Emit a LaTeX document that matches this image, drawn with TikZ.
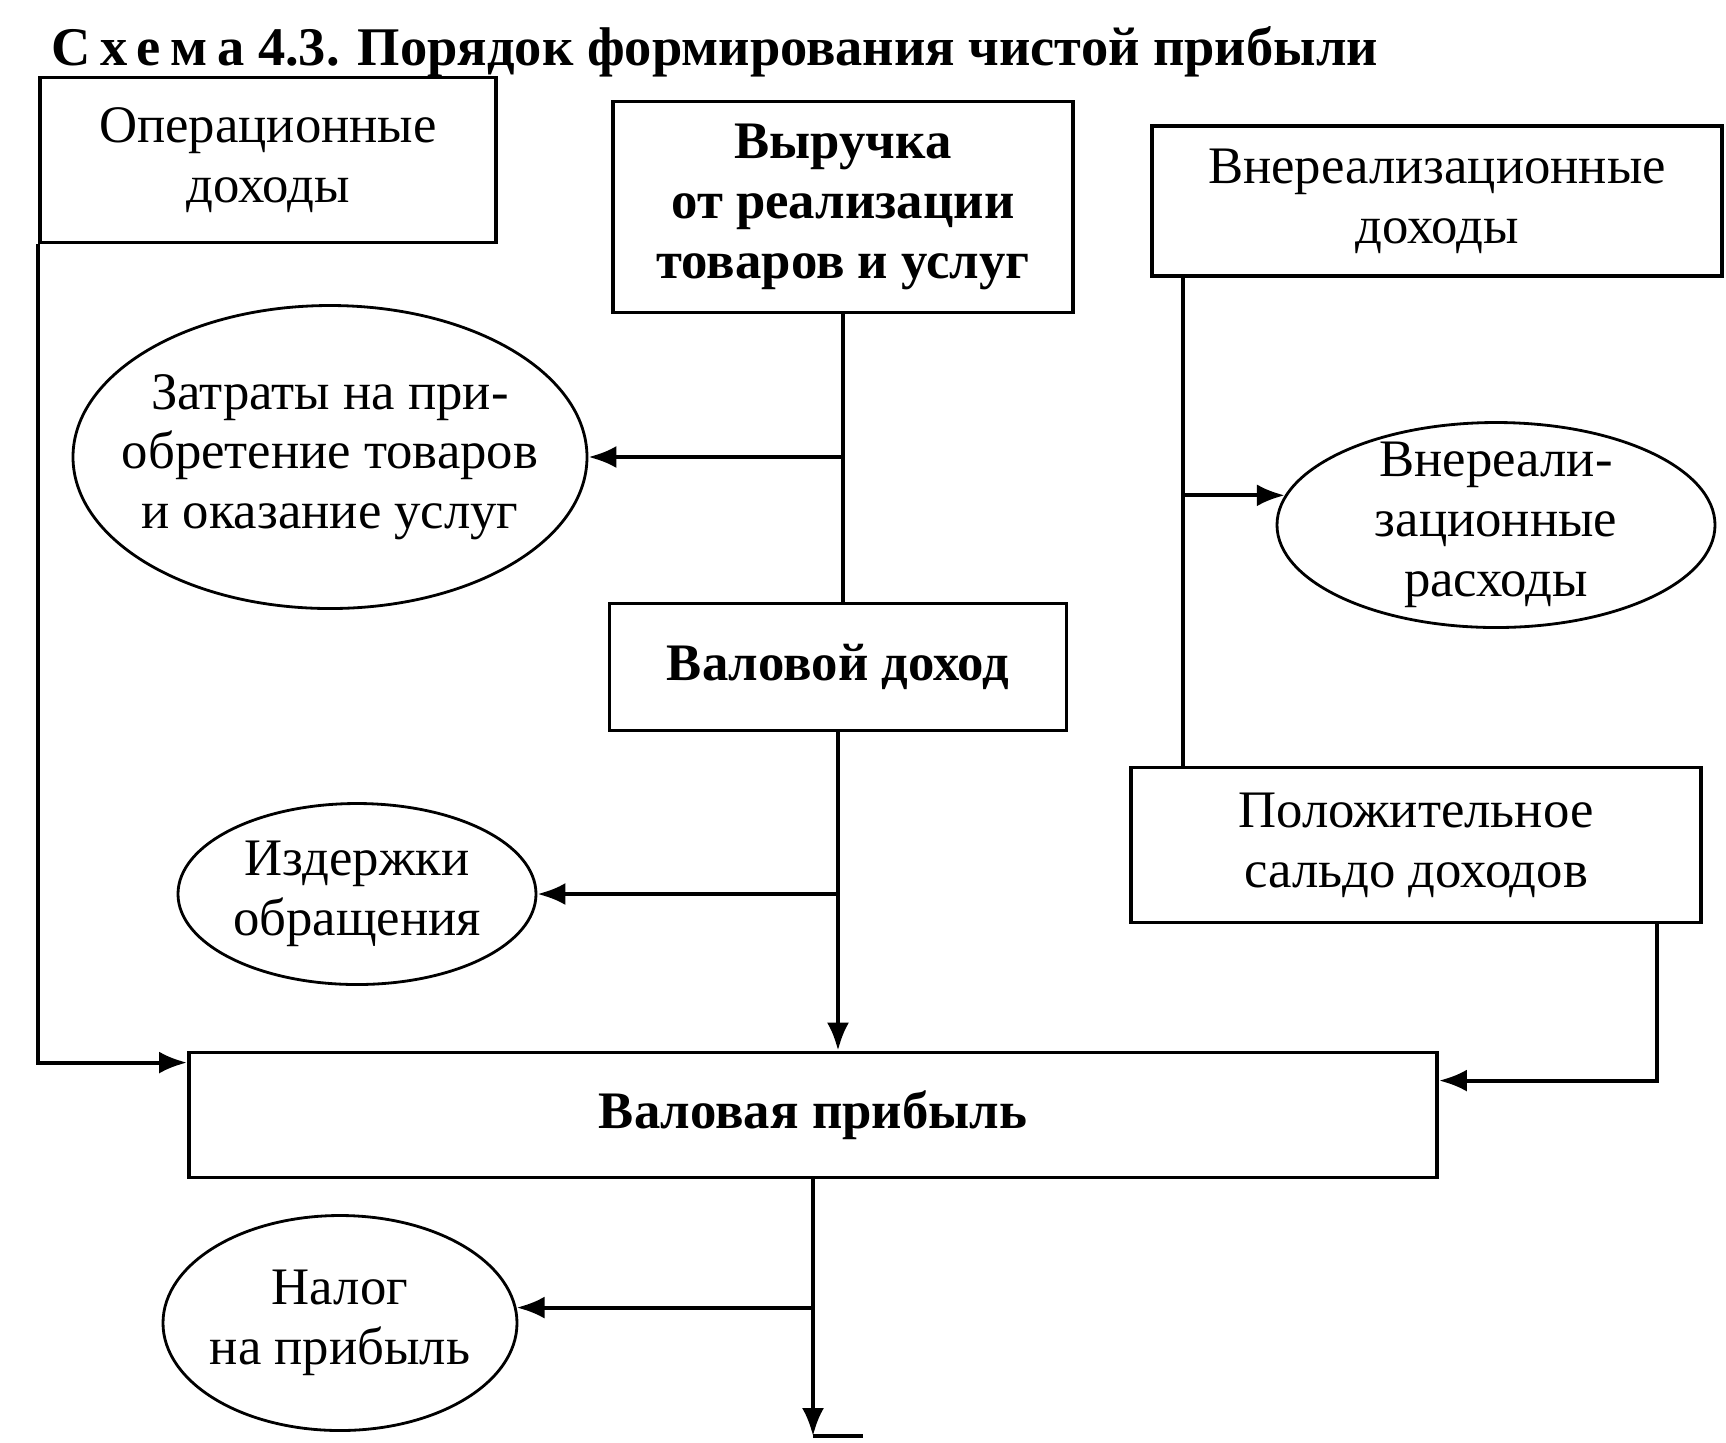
\documentclass[tikz,border=0pt]{standalone}
\usepackage{fontspec}
\setmainfont{Liberation Serif}
\usetikzlibrary{arrows.meta, positioning, shapes.geometric, calc}

\begin{document}
\begin{tikzpicture}[
    box/.style={draw, line width=1.1pt, align=center, inner sep=2pt},  % rectangular blocks
    oval/.style={draw, ellipse, line width=0.8pt, align=center, inner xsep=-3mm, inner ysep=-2mm},
    link/.style={line width=1.1pt},
    arr/.style={line width=1.1pt, -{Latex[length=2.8mm, width=2.2mm]}},
    bold/.style={font=\fontsize{15}{17}\selectfont\bfseries},
    every node/.style={font=\fontsize{15}{17}\selectfont},
    >=latex
]

% Page frame
\useasboundingbox (0,0) rectangle (17.26,-14.42);

% Title
\node[font=\fontsize{15.5}{19}\selectfont\bfseries] (title) at (7.15,-0.52)
    {{\addfontfeature{LetterSpace=18}Схема} 4.3. Порядок формирования чистой прибыли};

% Top row: sources of income
\node[box, minimum width=4.56cm, minimum height=1.65cm] (opinc) at (2.68,-1.60) {Операционные\\доходы};
\node[box, bold, minimum width=4.60cm, minimum height=2.11cm] (revenue) at (8.43,-2.07) {Выручка\\от реализации\\товаров и услуг};
\node[box, minimum width=5.70cm, minimum height=1.50cm] (nrinc) at (14.37,-2.01) {Внереализационные\\доходы};

% Expenses of the first level
\node[oval, minimum width=5.14cm, minimum height=3.03cm] (purch) at (3.30,-4.57) {Затраты на при-\\обретение товаров\\и оказание услуг};
\node[oval, minimum width=4.38cm, minimum height=2.05cm] (nrexp) at (14.96,-5.25) {Внереали-\\зационные\\расходы};

% Intermediate results
\node[box, bold, minimum width=4.57cm, minimum height=1.27cm] (grossinc) at (8.38,-6.67) {Валовой доход};
\node[oval, minimum width=3.58cm, minimum height=1.81cm] (distr) at (3.57,-8.94) {Издержки\\обращения};
\node[box, minimum width=5.70cm, minimum height=1.55cm] (posbal) at (14.16,-8.45) {Положительное\\сальдо доходов};

% Gross profit and tax
\node[box, bold, minimum width=12.48cm, minimum height=1.25cm] (grossprof) at (8.13,-11.15) {Валовая прибыль};
\node[oval, minimum width=3.54cm, minimum height=2.15cm] (tax) at (3.40,-13.23) {Налог\\на прибыль};
\coordinate (netprof) at (8.13,-14.36);

% Helper points on the side lines
\coordinate (nrdown) at ([xshift=0.33cm]nrinc.south west);
\coordinate (posdown) at ([xshift=-0.46cm]posbal.south east);

% Connections
\draw[link] (revenue.south) -- (revenue.south |- grossinc.north);
\draw[arr] (revenue.south |- purch.east) -- (purch.east);

\draw[link] (nrdown) -- (nrdown |- posbal.north);
\draw[arr] (nrdown |- nrexp.172) -- (nrexp.172);

\draw[arr] (grossinc.south) -- (grossinc.south |- grossprof.north);
\draw[arr] (grossinc.south |- distr.east) -- (distr.east);

\draw[arr] (opinc.south west) |- ([yshift=-0.12cm]grossprof.north west);
\draw[arr] (posdown) |- ([yshift=-0.3cm]grossprof.north east);

\draw[arr] (grossprof.south) -- (netprof);
\draw[arr] (grossprof.south |- tax.5) -- (tax.5);
\draw[link] (netprof) -- ++(0.5,0);

\end{tikzpicture}
\end{document}
